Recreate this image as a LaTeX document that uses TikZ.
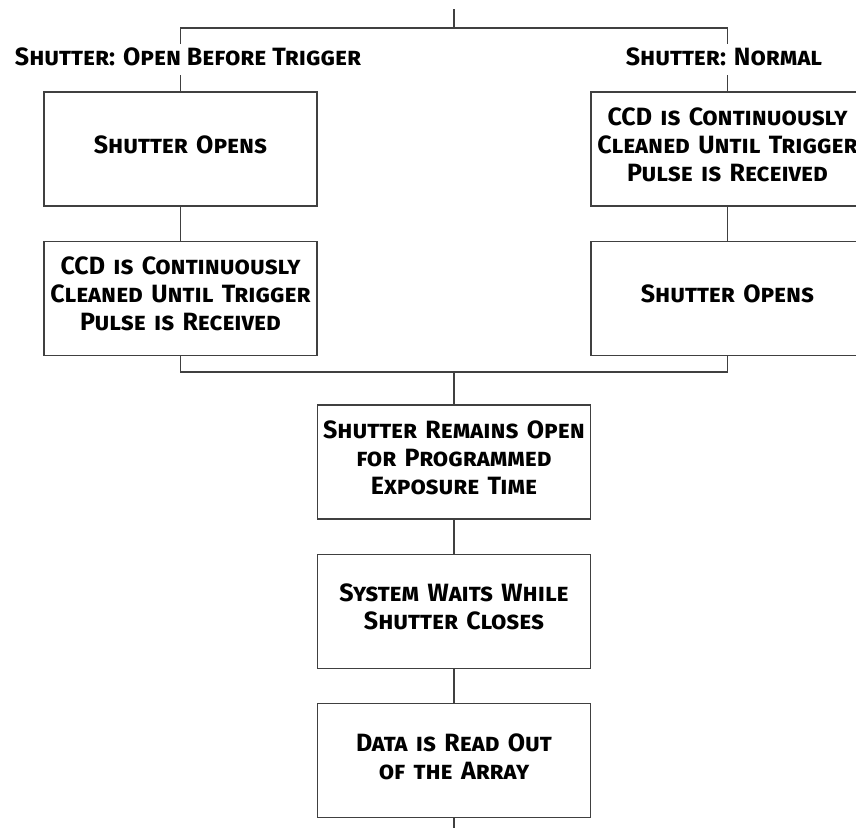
\documentclass[tikz,border=0pt]{standalone}
\usepackage{fontspec}
\setmainfont{Fira Sans}
\usetikzlibrary{positioning}
\begin{document}
\begin{tikzpicture}[x=1pt, y=-1pt,
                    node distance=34pt,
                    every node/.style={font={\bfseries\scshape\fontsize{25}{28}\selectfont}},
                    stepbox/.style={draw=black!75, line width=1.3pt, minimum width=273pt,
                                    minimum height=114pt, text width=270pt, inner sep=0pt, align=center,
                                    execute at end node={\endgraf\vspace{8pt}}},
                    modelabel/.style={inner xsep=4pt, inner ysep=3pt, text depth=7pt, anchor=base},
                    wire/.style={draw=black!75, line width=1.3pt}]
  \useasboundingbox (0,0) rectangle (856,828);
  \coordinate (top) at (454,9);
  \coordinate (fork) at (454,28);
  \coordinate (join) at (454,372);
  \coordinate (end) at (454,828);

  \node[modelabel] (lLabel) at (188,65) {Shutter: Open Before Trigger};
  \node[modelabel] (rLabel) at (724,65) {Shutter: Normal};

  \node[stepbox] (lOpen) at (180.5,149) {Shutter Opens};
  \node[stepbox, below=34pt of lOpen] (lClean) {CCD is Continuously\\ Cleaned Until Trigger\\ Pulse is Received};
  \node[stepbox] (rClean) at (727.5,149) {CCD is Continuously\\ Cleaned Until Trigger\\ Pulse is Received};
  \node[stepbox, below=34pt of rClean] (rOpen) {Shutter Opens};

  \node[stepbox] (expo) at (454,462) {Shutter Remains Open\\ for Programmed\\ Exposure Time};
  \node[stepbox, below=34pt of expo] (wait) {System Waits While\\ Shutter Closes};
  \node[stepbox, below=34pt of wait] (read) {Data is Read Out\\ of the Array};

  \draw[wire] (top) -- (fork);
  \draw[wire] (lLabel.north -| lOpen) |- (fork) -| (rLabel.north -| rClean);
  \draw[wire] (lLabel.south -| lOpen) -- (lOpen);
  \draw[wire] (rLabel.south -| rClean) -- (rClean);
  \draw[wire] (lOpen) -- (lClean);
  \draw[wire] (rClean) -- (rOpen);
  \draw[wire] (lClean) |- (join) -| (rOpen);
  \draw[wire] (join) -- (expo);
  \draw[wire] (expo) -- (wait);
  \draw[wire] (wait) -- (read);
  \draw[wire] (read) -- (end);
\end{tikzpicture}
\end{document}
